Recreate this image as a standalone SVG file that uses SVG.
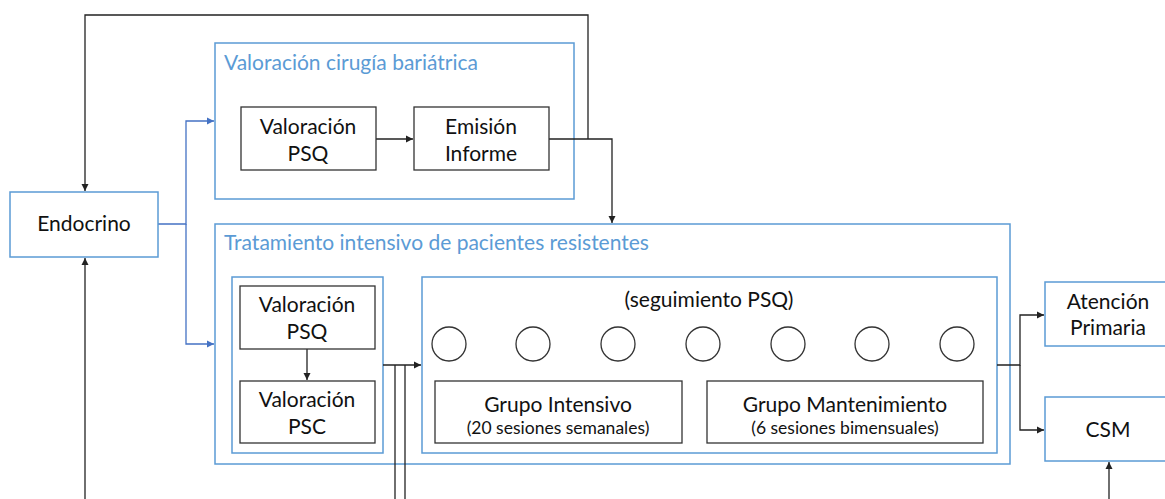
<svg xmlns="http://www.w3.org/2000/svg" width="1165" height="499" viewBox="0 0 1165 499">
<style>
.bg{fill:#fff}
.blue{fill:#fff;stroke:#5B9BD5;stroke-width:1.5}
.blk{fill:#fff;stroke:#333;stroke-width:1.3}
.t{font-family:Lato,"Open Sans",sans-serif;font-size:21px;fill:#111;text-anchor:middle}
.s{font-family:Lato,"Open Sans",sans-serif;font-size:17.5px;fill:#111;text-anchor:middle}
.title{font-family:Lato,"Open Sans",sans-serif;font-size:21px;fill:#5B9BD5}
.c{fill:none;stroke:#222;stroke-width:1.3}
.cb{fill:none;stroke:#4472C4;stroke-width:1.3}
.circ{fill:#fff;stroke:#333;stroke-width:1.3}
</style>
<defs>
<marker id="ak" markerWidth="8" markerHeight="8" refX="7" refY="4" orient="auto" markerUnits="userSpaceOnUse"><path d="M0,0.5 L7,4 L0,7.5 Z" fill="#222"/></marker>
<marker id="ab" markerWidth="8" markerHeight="8" refX="7" refY="4" orient="auto" markerUnits="userSpaceOnUse"><path d="M0,0.5 L7,4 L0,7.5 Z" fill="#4472C4"/></marker>
</defs>
<rect class="bg" x="0" y="0" width="1165" height="499"/>

<g id="cirugia">
<rect class="blue" x="215" y="43" width="359" height="156"/>
<text class="title" x="224" y="70">Valoración cirugía bariátrica</text>
</g>
<g id="tratamiento">
<rect class="blue" x="215" y="224" width="795" height="240"/>
<text class="title" x="224" y="250">Tratamiento intensivo de pacientes resistentes</text>
</g>
<g id="valoracion-group">
<rect class="blue" x="232" y="277" width="151" height="176"/>
</g>
<g id="seguimiento">
<rect class="blue" x="422" y="277" width="575" height="176"/>
<text class="t" x="709" y="307">(seguimiento PSQ)</text>
<circle class="circ" cx="449" cy="344" r="17"/>
<circle class="circ" cx="533" cy="344" r="17"/>
<circle class="circ" cx="618" cy="344" r="17"/>
<circle class="circ" cx="703" cy="344" r="17"/>
<circle class="circ" cx="788" cy="344" r="17"/>
<circle class="circ" cx="872" cy="344" r="17"/>
<circle class="circ" cx="957" cy="344" r="17"/>
</g>

<g id="connectors">
<polyline class="c" points="85,499 85,258" marker-end="url(#ak)"/>
<polyline class="c" points="588,139 588,15 85,15 85,191" marker-end="url(#ak)"/>
<polyline class="c" points="549,139 612,139 612,223" marker-end="url(#ak)"/>
<polyline class="c" points="376,139 413,139" marker-end="url(#ak)"/>
<polyline class="cb" points="158,224 186,224 186,121 214,121" marker-end="url(#ab)"/>
<polyline class="cb" points="186,224 186,344 214,344" marker-end="url(#ab)"/>
<polyline class="c" points="307,349 307,380" marker-end="url(#ak)"/>
<polyline class="c" points="383,365 421,365" marker-end="url(#ak)"/>
<polyline class="c" points="395,365 395,499"/>
<polyline class="c" points="405,365 405,499"/>
<polyline class="c" points="997,365 1020,365 1020,315 1044,315" marker-end="url(#ak)"/>
<polyline class="c" points="1020,365 1020,430 1044,430" marker-end="url(#ak)"/>
<polyline class="c" points="1109,499 1109,462" marker-end="url(#ak)"/>
</g>

<g id="endocrino">
<rect class="blue" x="10" y="192" width="148" height="65"/>
<text class="t" x="84" y="231">Endocrino</text>
</g>
<g id="valoracion-psq-1">
<rect class="blk" x="241" y="107" width="135" height="63"/>
<text class="t" x="308" y="134">Valoración</text>
<text class="t" x="308" y="161">PSQ</text>
</g>
<g id="emision-informe">
<rect class="blk" x="414" y="107" width="135" height="63"/>
<text class="t" x="481" y="134">Emisión</text>
<text class="t" x="481" y="161">Informe</text>
</g>
<g id="valoracion-psq-2">
<rect class="blk" x="240" y="286" width="135" height="63"/>
<text class="t" x="307" y="312">Valoración</text>
<text class="t" x="307" y="339">PSQ</text>
</g>
<g id="valoracion-psc">
<rect class="blk" x="240" y="381" width="135" height="62"/>
<text class="t" x="307" y="407">Valoración</text>
<text class="t" x="307" y="434">PSC</text>
</g>
<g id="grupo-intensivo">
<rect class="blk" x="435" y="381" width="247" height="62"/>
<text class="t" x="558" y="412">Grupo Intensivo</text>
<text class="s" x="558" y="434">(20 sesiones semanales)</text>
</g>
<g id="grupo-mantenimiento">
<rect class="blk" x="707" y="381" width="276" height="62"/>
<text class="t" x="845" y="412">Grupo Mantenimiento</text>
<text class="s" x="845" y="434">(6 sesiones bimensuales)</text>
</g>
<g id="atencion-primaria">
<rect class="blue" x="1045" y="282" width="126" height="64"/>
<text class="t" x="1108" y="309">Atención</text>
<text class="t" x="1108" y="335">Primaria</text>
</g>
<g id="csm">
<rect class="blue" x="1045" y="397" width="126" height="64"/>
<text class="t" x="1108" y="437">CSM</text>
</g>
</svg>
